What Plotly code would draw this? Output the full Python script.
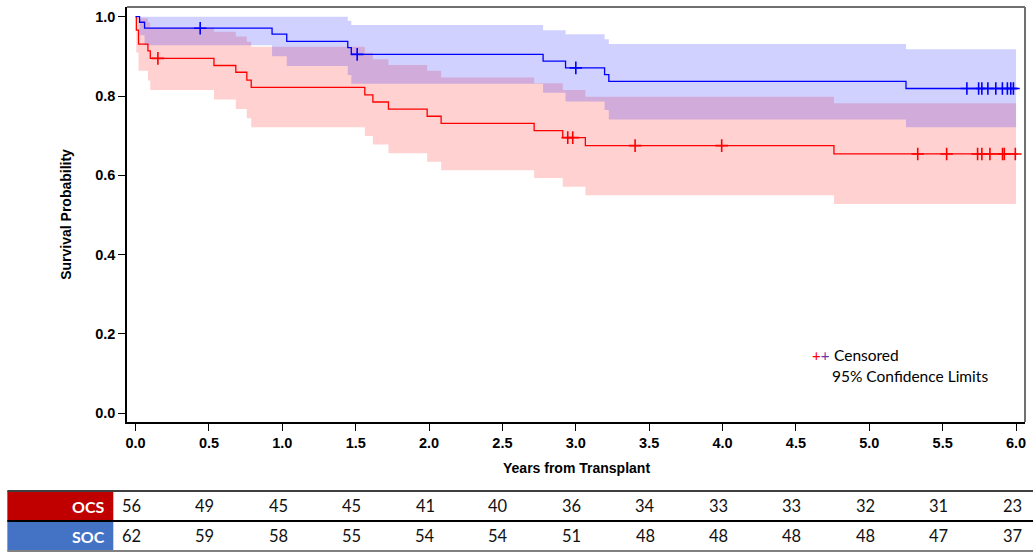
import plotly.graph_objects as go

# ---------------- data ----------------
soc_t = [0, 0.027, 0.061, 0.93, 1.03, 1.446, 1.47, 2.777, 2.93, 3.196, 3.225, 5.25, 6.0]
soc_s = [1.0, 0.986, 0.971, 0.956, 0.938, 0.922, 0.905, 0.888, 0.871, 0.854, 0.837, 0.819, 0.819]
soc_lower = [1.0, 0.953, 0.928, 0.900, 0.876, 0.853, 0.831, 0.808, 0.786, 0.765, 0.741, 0.721, 0.721]
soc_upper = [1.0, 1.0, 1.0, 1.0, 1.0, 0.990, 0.979, 0.966, 0.956, 0.943, 0.931, 0.918, 0.918]

ocs_t = [0, 0.005, 0.02, 0.084, 0.1, 0.534, 0.683, 0.758, 0.788, 1.562, 1.617, 1.723,
         1.987, 2.082, 2.716, 2.911, 3.065, 4.759, 6.0]
ocs_s = [1.0, 0.966, 0.931, 0.914, 0.895, 0.877, 0.860, 0.840, 0.822, 0.803, 0.785, 0.767,
         0.749, 0.731, 0.713, 0.695, 0.675, 0.654, 0.654]
ocs_lower = [1.0, 0.910, 0.864, 0.839, 0.815, 0.791, 0.767, 0.744, 0.721, 0.699, 0.678, 0.656,
             0.634, 0.613, 0.593, 0.571, 0.550, 0.528, 0.528]
ocs_upper = [1.0, 1.0, 0.996, 0.986, 0.973, 0.962, 0.950, 0.937, 0.924, 0.909, 0.893, 0.878,
             0.864, 0.847, 0.832, 0.815, 0.798, 0.782, 0.782]

soc_cens_t = [0.44, 1.51, 3.0, 5.665, 5.745, 5.767, 5.808, 5.862, 5.907, 5.941, 5.964, 5.982]
soc_cens_s = [0.971, 0.905, 0.871, 0.819, 0.819, 0.819, 0.819, 0.819, 0.819, 0.819, 0.819, 0.819]
ocs_cens_t = [0.152, 2.945, 2.979, 3.404, 3.994, 5.33, 5.527, 5.738, 5.767, 5.822, 5.908, 5.92, 5.995]
ocs_cens_s = [0.895, 0.695, 0.695, 0.675, 0.675, 0.654, 0.654, 0.654, 0.654, 0.654, 0.654, 0.654, 0.654]

risk_times = [0.0, 0.5, 1.0, 1.5, 2.0, 2.5, 3.0, 3.5, 4.0, 4.5, 5.0, 5.5, 6.0]
ocs_risk = [56, 49, 45, 45, 41, 40, 36, 34, 33, 33, 32, 31, 23]
soc_risk = [62, 59, 58, 55, 54, 54, 51, 48, 48, 48, 48, 47, 37]
groups = ["OCS", "SOC"]

RED = "#FF0000"
BLUE = "#0000FF"

fig = go.Figure()

# confidence bands
for t, lo, up, fc in [(ocs_t, ocs_lower, ocs_upper, "rgba(255,0,0,0.18)"),
                      (soc_t, soc_lower, soc_upper, "rgba(0,0,255,0.18)")]:
    fig.add_trace(go.Scatter(x=t, y=lo, mode="lines", line=dict(width=0, shape="hv"),
                             hoverinfo="skip"))
    fig.add_trace(go.Scatter(x=t, y=up, mode="lines", line=dict(width=0, shape="hv"),
                             fill="tonexty", fillcolor=fc, hoverinfo="skip"))

# survival curves
ocs_line_t = ocs_t[:-1] + [6.01]
soc_line_t = soc_t[:-1] + [6.01]
fig.add_trace(go.Scatter(x=ocs_line_t, y=ocs_s, mode="lines",
                         line=dict(color=RED, width=1.3, shape="hv")))
fig.add_trace(go.Scatter(x=soc_line_t, y=soc_s, mode="lines",
                         line=dict(color=BLUE, width=1.3, shape="hv")))

# censor marks
fig.add_trace(go.Scatter(x=ocs_cens_t, y=ocs_cens_s, mode="markers",
                         marker=dict(symbol="cross-thin", size=9,
                                     line=dict(color=RED, width=1.6))))
fig.add_trace(go.Scatter(x=soc_cens_t, y=soc_cens_s, mode="markers",
                         marker=dict(symbol="cross-thin", size=9,
                                     line=dict(color=BLUE, width=1.6))))

axis_font = dict(family="Liberation Sans, Arial", size=14.5, color="black", weight="bold")

fig.update_layout(
    width=1033, height=552,
    margin=dict(l=127, r=8, t=7, b=130),
    plot_bgcolor="white", paper_bgcolor="white",
    showlegend=False,
    xaxis=dict(range=[-0.0586, 6.061], tickmode="array", tickvals=risk_times,
               ticktext=[f"{v:.1f}" for v in risk_times],
               showgrid=False, zeroline=False, showline=True, linecolor="black",
               linewidth=1.5, ticks="outside", ticklen=7, tickcolor="black",
               tickfont=axis_font),
    yaxis=dict(range=[-0.022, 1.0245], tickmode="linear", tick0=0, dtick=0.2,
               tickformat=".1f", showgrid=False, zeroline=False, showline=True,
               linecolor="black", linewidth=1.5, ticks="outside", ticklen=7,
               tickcolor="black", tickfont=axis_font),
)

# frame top/right
fig.add_shape(type="line", xref="paper", yref="paper", x0=0, x1=1, y0=1, y1=1,
              line=dict(color="#707070", width=2))
fig.add_shape(type="line", xref="paper", yref="paper", x0=1, x1=1, y0=0, y1=1,
              line=dict(color="#707070", width=2))

title_font = dict(family="Liberation Sans, Arial", size=14, color="black", weight="bold")
fig.add_annotation(text="Years from Transplant", xref="paper", yref="paper", x=0.5, y=-0.1108,
                   showarrow=False, font=title_font, xanchor="center", yanchor="middle")
fig.add_annotation(text="Survival Probability", xref="paper", yref="paper", x=-0.0687, y=0.5,
                   showarrow=False, font=title_font, textangle=-90,
                   xanchor="center", yanchor="middle")

# legend
leg_font = dict(family="Lato, Noto Sans", size=15.5, color="black")
fig.add_annotation(text=f"<span style='color:{RED}'>+</span><span style='color:#7030A0'>+</span>",
                   xref="paper", yref="paper", x=0.7607, y=0.1614, showarrow=False,
                   font=dict(family="Lato", size=15, color=RED), xanchor="left", yanchor="middle")
fig.add_annotation(text="Censored", xref="paper", yref="paper", x=0.7851, y=0.1614,
                   showarrow=False, font=leg_font, xanchor="left", yanchor="middle")
fig.add_annotation(text="95% Confidence Limits", xref="paper", yref="paper", x=0.7829, y=0.1108,
                   showarrow=False, font=leg_font, xanchor="left", yanchor="middle")

# risk table
def py2paper(py):
    return (422 - py) / 415.0

def px2paper(px):
    return (px - 126.7) / 898.3

row_tops = [491, 521]
row_fill = ["#C00000", "#4472C4"]
for g, top, fcol in zip(groups, row_tops, row_fill):
    fig.add_shape(type="rect", xref="paper", yref="paper",
                  x0=px2paper(7), x1=px2paper(113), y0=py2paper(top), y1=py2paper(top + 30),
                  fillcolor=fcol, line=dict(width=0), layer="below")
    fig.add_annotation(text=g, xref="paper", yref="paper", x=px2paper(107), y=py2paper(top + 15),
                       showarrow=False, xanchor="right", yanchor="middle",
                       font=dict(family="Lato, Noto Sans", size=16, color="white", weight="bold"))

for py, col in [(491, "#404040"), (521, "#000000"), (551, "#808080")]:
    fig.add_shape(type="line", xref="paper", yref="paper", x0=px2paper(7), x1=px2paper(1033),
                  y0=py2paper(py), y1=py2paper(py), line=dict(color=col, width=2))

num_font = dict(family="Lato, Noto Sans", size=16.5, color="#111111")
for vals, top in [(ocs_risk, 491), (soc_risk, 521)]:
    for t, v in zip(risk_times, vals):
        fig.add_annotation(text=str(v), xref="x", yref="paper", x=t, xshift=-4,
                           y=py2paper(top + 15), showarrow=False, xanchor="center",
                           yanchor="middle", font=num_font)

fig.write_html("out.html", config={"displayModeBar": False},
               post_script="document.body.style.margin='0px';document.body.style.overflow='hidden';")
